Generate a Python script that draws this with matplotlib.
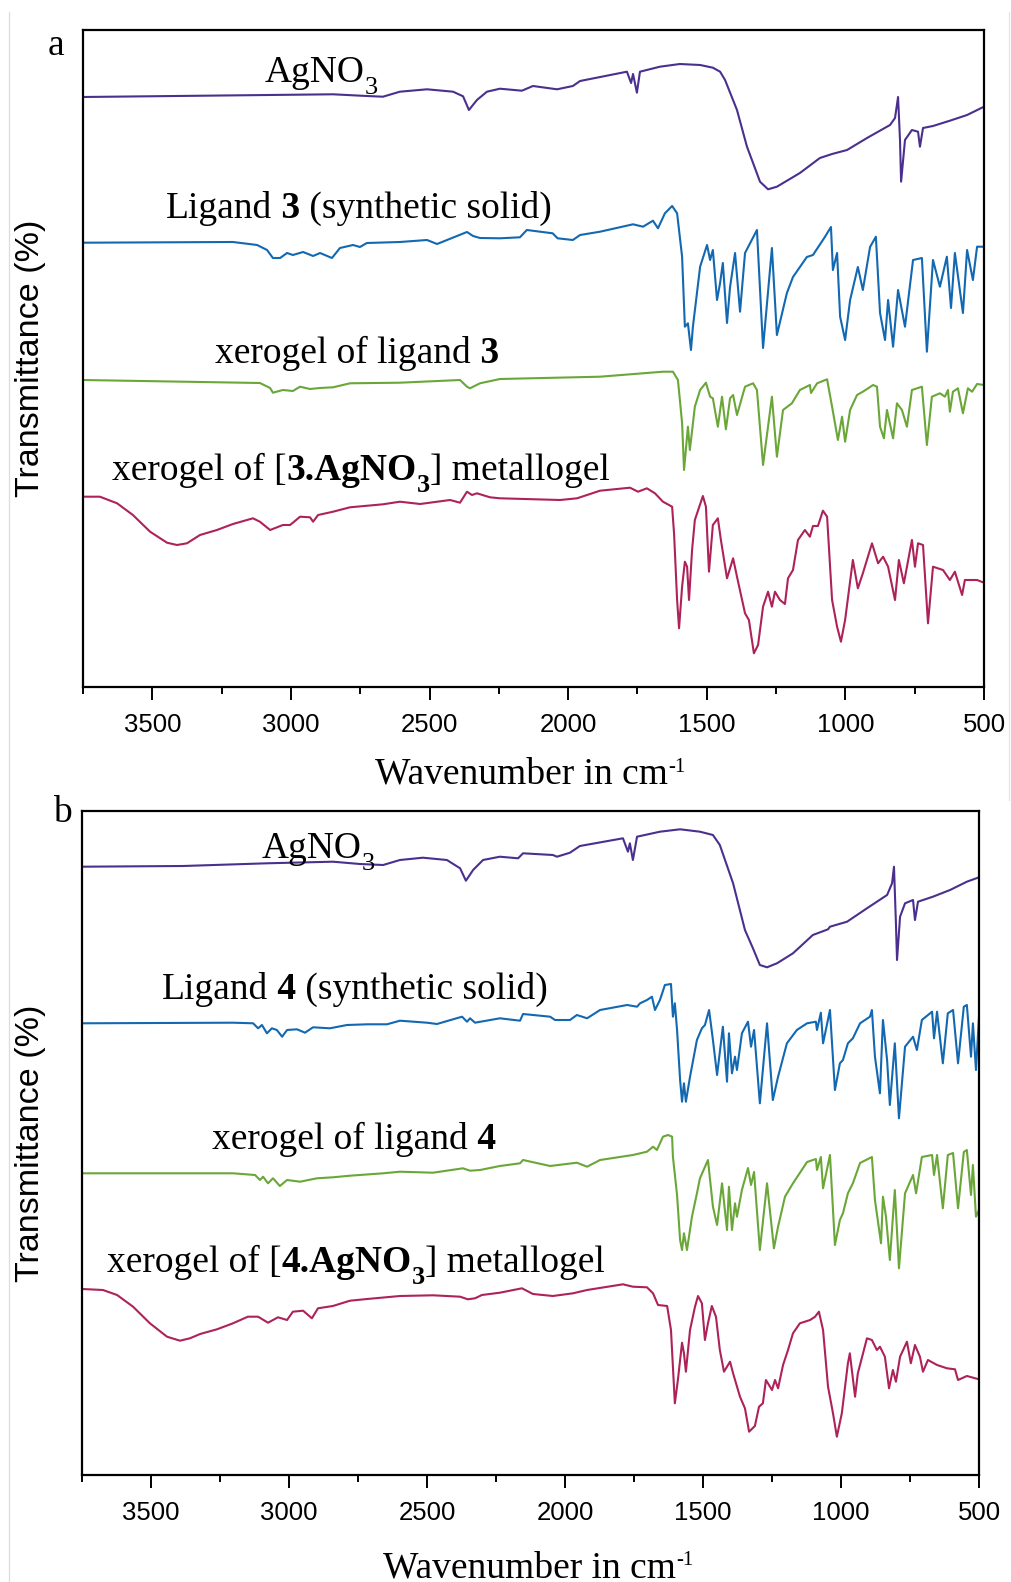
import matplotlib
matplotlib.use("Agg")
import matplotlib.pyplot as plt
from matplotlib.lines import Line2D
from matplotlib.ticker import MultipleLocator

plt.rcParams['font.family'] = 'Liberation Serif'

# ---- panel a: ligand 3 series (wavenumber in cm-1, offset transmittance) ----
agno3_a_wn = [3750, 2848, 2726, 2668, 2607, 2509, 2415, 2379, 2358, 2329, 2293, 2246, 2167, 2127,
              2040, 1983, 1957, 1788, 1773, 1766, 1752, 1741, 1669, 1597, 1524, 1478, 1452, 1434,
              1391, 1355, 1333, 1308, 1279, 1247, 1164, 1092, 1048, 994, 922, 839, 821, 810, 803,
              799, 785, 760, 738, 731, 720, 684, 623, 561, 500]
agno3_a_t = [590, 592.7, 591, 590.3, 595.3, 597.7, 595.3, 590.7, 577, 587, 595.3, 598.3, 596.3, 601,
             597.7, 601, 606, 615.3, 604, 613, 594.3, 615.3, 620.3, 623, 622, 619.3, 615.3, 607,
             577, 540.3, 524, 505.3, 497.7, 500.3, 514, 529, 533, 537, 549, 562, 569, 590, 547,
             505.3, 547, 557, 555.3, 540.3, 559, 561, 566.3, 572, 580.3]

lig3_wn = [3750, 3209, 3122, 3086, 3065, 3039, 3014, 2993, 2956, 2920, 2895, 2852, 2823, 2776, 2751,
           2726, 2607, 2509, 2473, 2437, 2365, 2343, 2318, 2246, 2174, 2149, 2056, 2038, 1983, 1957,
           1885, 1766, 1730, 1694, 1676, 1651, 1625, 1607, 1589, 1579, 1568, 1557, 1550, 1524, 1499,
           1488, 1478, 1463, 1452, 1442, 1427, 1416, 1398, 1380, 1362, 1319, 1297, 1265, 1247, 1211,
           1189, 1139, 1117, 1074, 1052, 1045, 1030, 1019, 1001, 983, 955, 937, 911, 890, 875, 857,
           846, 828, 810, 785, 756, 724, 706, 684, 659, 634, 619, 605, 576, 561, 540, 525, 500]
lig3_t = [444.3, 445, 442, 437, 429, 429, 434, 432, 435, 431, 434, 429, 439, 442, 440,
          444, 445, 447, 443, 447, 455, 451, 449, 448.7, 449.7, 457, 453.7, 448.7, 447, 452,
          455.3, 462.7, 460.3, 466.3, 458.7, 473.7, 481, 473.7, 430.3, 360.3, 363.7, 337, 360.3, 420.3, 442,
          427, 437, 387, 404, 424, 364, 400, 434, 375.3, 434, 457, 339, 439, 352, 394,
          410, 430, 432, 450, 460, 417, 434, 370.3, 347, 387, 420, 397, 440, 450.3, 374, 347,
          387, 340.3, 397, 360.3, 427, 429, 335.3, 427, 400.3, 430.3, 379, 434, 374, 437, 407, 440.3, 440.3]

xero3_wn = [3750, 3112, 3075, 3065, 3029, 2993, 2967, 2931, 2895, 2848, 2787, 2607, 2390, 2365, 2354,
            2318, 2246, 1885, 1658, 1622, 1604, 1589, 1582, 1568, 1561, 1543, 1524, 1503, 1488, 1478,
            1460, 1445, 1431, 1416, 1405, 1391, 1362, 1333, 1319, 1297, 1265, 1247, 1225, 1193, 1164,
            1128, 1124, 1102, 1066, 1048, 1027, 1012, 1001, 983, 958, 937, 900, 886, 875, 861, 850,
            828, 814, 796, 778, 760, 724, 706, 688, 659, 641, 630, 623, 612, 594, 576, 558, 543, 525, 500]
xero3_t = [307, 304, 299, 294.3, 297, 296, 300.3, 298, 299, 299.7, 303.7, 304.3, 307, 300.3, 298.7,
           303.7, 308, 310.3, 315.3, 315.3, 307, 264, 217, 260.3, 237, 280.3, 297, 304.3, 290.3, 288.7,
           260.3, 290.3, 257.7, 288.7, 292, 272, 300.3, 303.7, 297, 222, 290.3, 230.3, 277, 283.7, 297,
           302, 294, 303.7, 307.7, 280.3, 247, 270.3, 245.3, 277, 292, 295.3, 302, 300.3, 260.3, 248.7, 277,
           248.7, 283.7, 277, 260.3, 297, 300.3, 242, 290.3, 293.7, 290.3, 297, 275.3, 295.3, 298.7, 273.7, 298.7, 295.3, 303, 302]

metal3_wn = [3750, 3689, 3627, 3570, 3508, 3447, 3411, 3375, 3328, 3267, 3209, 3137, 3112, 3075, 3029,
             3003, 2967, 2931, 2920, 2902, 2848, 2787, 2668, 2607, 2534, 2426, 2390, 2365, 2347, 2329,
             2282, 2246, 2029, 1968, 1885, 1777, 1748, 1716, 1687, 1658, 1625, 1618, 1607, 1600, 1589,
             1579, 1571, 1564, 1553, 1543, 1514, 1503, 1492, 1478, 1460, 1449, 1427, 1405, 1391, 1362,
             1348, 1330, 1315, 1297, 1279, 1265, 1254, 1236, 1218, 1207, 1189, 1171, 1146, 1128, 1117,
             1099, 1081, 1066, 1048, 1030, 1016, 1001, 973, 955, 937, 904, 882, 864, 846, 821, 807, 789,
             760, 749, 738, 720, 702, 684, 648, 623, 605, 579, 569, 525, 500]
metal3_t = [190.3, 190.3, 183.7, 172, 155.3, 144.3, 142, 143.7, 152, 157, 163, 168.7, 165.3, 157, 162,
            162, 170.3, 169.7, 165.3, 172, 175.3, 179.7, 182.7, 185.3, 183, 187, 184.3, 195.3, 192, 193.7,
            189.7, 188.7, 187, 188.7, 196.3, 199.3, 195.3, 198.7, 193.7, 185.3, 180.3, 153.7, 87, 58.7, 100.3,
            125.3, 120.3, 87, 137, 167, 191, 180.3, 115.3, 162, 168.7, 147, 108.7, 128.7, 110.3, 73.7,
            67, 33.7, 42, 80.3, 95.3, 80.3, 95.3, 87, 83, 108.7, 117, 147, 157, 150.3, 161,
            161, 176.3, 170.3, 87, 60.3, 45.3, 67, 127, 98.7, 113.7, 143.7, 123.7, 130.3, 120.3, 87, 127, 103.7,
            147, 120.3, 143.7, 142, 63.7, 120.3, 117, 107, 115.3, 92, 107, 107, 104.3]

# ---- panel b: ligand 4 series ----
agno3_b_wn = [3750, 3384, 3080, 2841, 2743, 2659, 2598, 2515, 2428, 2380, 2359, 2333, 2297, 2236, 2170,
              2152, 2044, 2029, 1982, 1946, 1790, 1772, 1765, 1754, 1739, 1656, 1583, 1511, 1464, 1439,
              1391, 1348, 1319, 1294, 1268, 1232, 1174, 1102, 1047, 1040, 978, 906, 833, 815, 808, 801,
              797, 786, 768, 739, 732, 721, 667, 605, 544, 500]
agno3_b_t = [608.3, 609, 611.7, 613.3, 611, 610, 615, 617.3, 615, 606.7, 594.3, 605, 615, 618.3, 616.7,
             621.7, 620, 618.3, 622.3, 629, 636.7, 623.3, 631.7, 615, 638.3, 643.3, 645.7, 643.3, 640, 630,
             591.7, 545, 526.7, 510, 507.7, 511.7, 521.7, 540, 545.7, 548.3, 553.3, 566.7, 580, 591.7, 608.3, 551.7,
             515, 558.3, 571.7, 575, 555, 573.3, 578.3, 585, 593.3, 597.7]

lig4_wn = [3750, 3203, 3130, 3112, 3098, 3080, 3062, 3044, 3025, 3007, 2971, 2942, 2913, 2852, 2790,
           2717, 2645, 2598, 2500, 2464, 2373, 2355, 2344, 2326, 2236, 2163, 2152, 2054, 2036, 1982,
           1957, 1920, 1873, 1775, 1739, 1728, 1703, 1685, 1674, 1656, 1638, 1616, 1609, 1602, 1594,
           1583, 1576, 1569, 1562, 1547, 1522, 1504, 1493, 1478, 1464, 1449, 1428, 1413, 1406, 1395,
           1384, 1377, 1359, 1337, 1326, 1315, 1294, 1268, 1247, 1228, 1196, 1160, 1123, 1091, 1087,
           1073, 1065, 1040, 1022, 1004, 993, 975, 957, 931, 895, 888, 877, 859, 848, 833, 823, 805,
           790, 768, 739, 725, 707, 670, 663, 652, 631, 613, 594, 576, 555, 544, 529, 522, 511, 500]
lig4_t = [451.7, 452.3, 451.7, 446.7, 450, 441.7, 446.7, 445, 438.3, 445, 445.7, 442.3, 447.7, 446.7, 450,
          450.7, 450.7, 454.3, 452.3, 451, 458.3, 453.3, 456.7, 452.3, 456.7, 454.3, 461, 458.3, 455, 455,
          460, 456.7, 465, 470, 468.3, 471.7, 475, 478.3, 465, 475, 490, 491, 458.3, 471.7, 445,
          395, 373.3, 391.7, 373.3, 398.3, 435, 446.7, 450, 465, 435, 400, 448.3, 393.3, 441.7, 401.7,
          418.3, 405, 441.7, 453.3, 428.3, 445, 371.7, 451.7, 375, 398.3, 431.7, 445, 451.7, 453.3, 445,
          462.3, 431.7, 465, 385, 411.7, 415, 431.7, 436.7, 451.7, 458.3, 465, 418.3, 381.7, 455, 415, 370, 431.7,
          356.7, 428.3, 438.3, 425, 455, 463.3, 436.7, 463.3, 411.7, 461.7, 465, 411.7, 468.3, 470, 418.3, 451.7, 405, 458.3]

xero4_wn = [3750, 3203, 3123, 3105, 3094, 3076, 3058, 3033, 3007, 2960, 2899, 2841, 2779, 2659, 2598,
            2478, 2370, 2344, 2308, 2236, 2163, 2152, 2054, 1957, 1920, 1873, 1754, 1703, 1681, 1667,
            1645, 1627, 1612, 1609, 1594, 1583, 1576, 1569, 1558, 1540, 1522, 1511, 1482, 1464, 1449,
            1431, 1413, 1406, 1395, 1384, 1377, 1359, 1337, 1326, 1315, 1294, 1268, 1243, 1228, 1203,
            1174, 1123, 1091, 1087, 1073, 1065, 1040, 1022, 1004, 993, 975, 957, 931, 888, 877, 855,
            848, 837, 823, 805, 790, 768, 739, 728, 707, 670, 663, 652, 631, 613, 594, 576, 555, 544,
            529, 522, 511, 500]
xero4_t = [301.7, 301.7, 300, 295, 298.3, 291.7, 296.7, 289, 295, 293.3, 296.7, 297.7, 299.3, 301.7, 303.3,
           302.3, 306.7, 304.3, 305, 309, 311.7, 315, 309, 312.3, 308.3, 315, 320, 323.3, 328.3, 325,
           338.3, 340, 338.3, 318.3, 280, 235, 225, 241.7, 225, 258.3, 281.7, 296.7, 315, 268.3, 250,
           291.7, 245, 288.3, 245, 271.7, 258.3, 285, 307, 290, 303, 225, 291.7, 226.7, 248.3, 278.3,
           291.7, 313, 316, 305, 318, 286.7, 320, 230, 255, 261.7, 281.7, 291.7, 312, 318, 275, 231.7,
           278.3, 258.3, 215, 285, 206.7, 281.7, 300, 281.7, 318, 320, 300, 320, 266.7, 320, 322, 266.7, 323, 325,
           280, 310, 258.3, 265]

metal4_wn = [3750, 3674, 3623, 3565, 3504, 3442, 3395, 3359, 3322, 3261, 3203, 3149, 3112, 3076, 3040,
             3007, 2986, 2949, 2917, 2895, 2841, 2779, 2717, 2598, 2478, 2380, 2352, 2326, 2301, 2236,
             2156, 2116, 2044, 1971, 1920, 1790, 1754, 1703, 1681, 1663, 1630, 1616, 1609, 1602, 1591,
             1576, 1569, 1562, 1547, 1529, 1518, 1504, 1493, 1482, 1468, 1453, 1439, 1424, 1402, 1391,
             1366, 1348, 1333, 1312, 1297, 1283, 1272, 1250, 1239, 1228, 1210, 1192, 1174, 1149, 1112,
             1094, 1080, 1065, 1047, 1029, 1015, 997, 975, 968, 949, 939, 906, 888, 870, 859, 841, 826,
             812, 801, 786, 761, 747, 732, 714, 703, 685, 652, 616, 587, 576, 544, 500]
metal4_t = [186, 185, 180, 168.3, 151.7, 138.3, 134.3, 136.7, 141, 145.7, 151.7, 158.3, 158.3, 152.3, 157.7,
            155, 163.3, 164.3, 156.7, 166.7, 169, 174.3, 176, 179, 179.7, 178.3, 175.7, 176.7, 180, 182.3,
            186.7, 181, 179, 181.7, 185, 190.7, 188.3, 187.7, 181.7, 170, 169, 145, 108.3, 71.7, 95,
            132.3, 121.7, 103.3, 145, 168.3, 179, 171.7, 135, 151.7, 169, 158.3, 125, 103.3, 113.3, 101.7,
            78.3, 66.7, 43.3, 49, 68.3, 71.7, 95, 85, 95, 86.7, 110, 125, 141.7, 151.7, 155,
            158.3, 163.3, 145, 88.3, 61.7, 38.3, 61.7, 111.7, 121.7, 78.3, 101.7, 136.7, 135, 125, 128.3, 118.3, 86.7,
            105, 93.3, 118.3, 133.3, 111.7, 130, 118.3, 103.3, 115, 110, 106.7, 105.7, 95, 99, 95.7]

colors = ['#4b2f8e', '#1268b1', '#6aa638', '#ad2259']

# curve labels as (text, weight, is_subscript) pieces
labels_a = [
    [('AgNO', 'normal', False), ('3', 'normal', True)],
    [('Ligand', 'normal', False), (' 3', 'bold', False), (' (synthetic solid)', 'normal', False)],
    [('xerogel of ligand', 'normal', False), (' 3', 'bold', False)],
    [('xerogel of [', 'normal', False), ('3.AgNO', 'bold', False), ('3', 'bold', True),
     ('] metallogel', 'normal', False)],
]
labels_b = [
    [('AgNO', 'normal', False), ('3', 'normal', True)],
    [('Ligand', 'normal', False), (' 4', 'bold', False), (' (synthetic solid)', 'normal', False)],
    [('xerogel of ligand', 'normal', False), (' 4', 'bold', False)],
    [('xerogel of [', 'normal', False), ('4.AgNO', 'bold', False), ('3', 'bold', True),
     ('] metallogel', 'normal', False)],
]


def rich_text(ax, x, y, pieces, coords, size=27, small=19, shift=-6.4):
    """Chain text pieces left to right on a shared baseline; small pieces get shifted."""
    base = ax.text(x, y, pieces[0][0], fontsize=size, fontweight=pieces[0][1],
                   ha='left', va='baseline', transform=coords)
    prev = base
    for txt, weight, small_piece in pieces[1:]:
        prev = ax.annotate(txt, xy=(1, 0), xycoords=(prev, base),
                           xytext=(0, shift if small_piece else 0), textcoords='offset points',
                           fontsize=small if small_piece else size, fontweight=weight,
                           ha='left', va='bottom', annotation_clip=False)
    return base


W, H = 1011, 1582
fig = plt.figure(figsize=(W / 100, H / 100), dpi=100)

# faint borders left over from the two stacked panel images
fig.add_artist(Line2D([9 / W, 9 / W], [0, 1 - 12 / H], color='#dcdcdc', lw=0.9))
fig.add_artist(Line2D([1009 / W, 1009 / W], [1 - 800 / H, 1 - 12 / H], color='#e4e4e4', lw=0.9))

panels = [
    dict(box=(83, 30, 984, 687), ymax=657, letter='a', letter_xy=(48, 55), xlab_xy=(375, 784),
         series=[(agno3_a_wn, agno3_a_t), (lig3_wn, lig3_t), (xero3_wn, xero3_t), (metal3_wn, metal3_t)],
         labels=labels_a,
         label_pos=[(3094, 605), (3451, 469), (3274, 324), (3645, 207)]),
    dict(box=(82, 811, 979, 1475), ymax=664, letter='b', letter_xy=(53, 822), xlab_xy=(383, 1577),
         series=[(agno3_b_wn, agno3_b_t), (lig4_wn, lig4_t), (xero4_wn, xero4_t), (metal4_wn, metal4_t)],
         labels=labels_b,
         label_pos=[(3098, 617), (3460, 476), (3279, 326), (3659, 203)]),
]

for p in panels:
    l, t, r, b = p['box']
    ax = fig.add_axes([l / W, 1 - b / H, (r - l) / W, (b - t) / H])
    for (wn, tr), c in zip(p['series'], colors):
        ax.plot(wn, tr, color=c, lw=1.5, solid_joinstyle='round')
    for (x, y), pieces in zip(p['label_pos'], p['labels']):
        rich_text(ax, x, y, pieces, ax.transData)

    ax.set_xlim(3750, 500)
    ax.set_ylim(0, p['ymax'])
    ax.xaxis.set_major_locator(MultipleLocator(500))
    ax.xaxis.set_minor_locator(MultipleLocator(250))
    ax.set_yticks([])
    ax.tick_params(axis='x', which='major', direction='out', length=9.4, width=1.4, pad=9,
                   labelsize=18.5, labelfontfamily='Liberation Sans')
    ax.tick_params(axis='x', which='minor', direction='out', length=5, width=1.4)
    for s in ax.spines.values():
        s.set_linewidth(1.6)

    xx, xy = p['xlab_xy']
    rich_text(ax, xx / W, 1 - xy / H,
              [('Wavenumber in cm', 'normal', False), ('-1', 'normal', True)],
              fig.transFigure, small=15, shift=10.6)
    fig.text(31 / W, 1 - (t + b) / 2 / H, 'Transmittance (%)', fontsize=24.5,
             family='Liberation Sans', rotation=90, ha='center', va='center')
    lx, ly = p['letter_xy']
    fig.text(lx / W, 1 - ly / H, p['letter'], fontsize=27, ha='left', va='baseline')

fig.savefig('out.png', dpi=100)
